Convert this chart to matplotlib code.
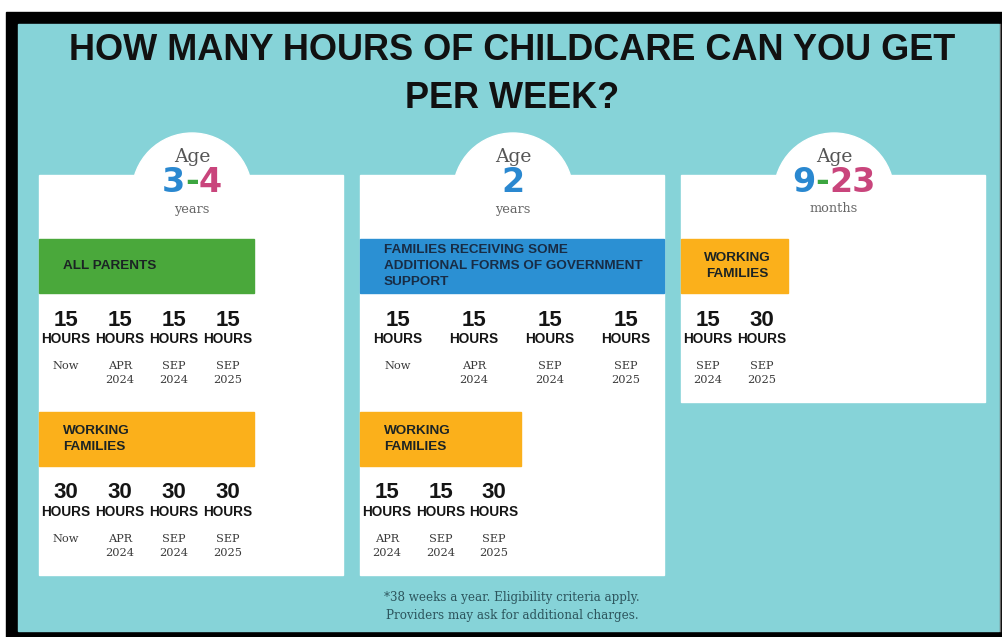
import matplotlib
matplotlib.use('Agg')
import matplotlib.pyplot as plt
from matplotlib.patches import Rectangle, Circle
from matplotlib import font_manager

# ---- data ----
title_lines = ['HOW MANY HOURS OF CHILDCARE CAN YOU GET', 'PER WEEK?']
age_parts = [
    [('3', 'blue'), ('-', 'green'), ('4', 'pink')],
    [('2', 'blue')],
    [('9', 'blue'), ('-', 'green'), ('23', 'pink')],
]
age_units = ['years', 'years', 'months']

band_all = 'ALL PARENTS'
band_support = 'FAMILIES RECEIVING SOME\nADDITIONAL FORMS OF GOVERNMENT\nSUPPORT'
band_working = 'WORKING\nFAMILIES'

dates_four = ['Now', 'APR\n2024', 'SEP\n2024', 'SEP\n2025']
dates_apr = ['APR\n2024', 'SEP\n2024', 'SEP\n2025']
dates_sep = ['SEP\n2024', 'SEP\n2025']

hours_34_all = [15, 15, 15, 15]
hours_34_working = [30, 30, 30, 30]
hours_2_support = [15, 15, 15, 15]
hours_2_working = [15, 15, 30]
hours_923_working = [15, 30]

footnote = '*38 weeks a year. Eligibility criteria apply.\nProviders may ask for additional charges.'

# ---- style ----
TEAL = '#86d3d8'
GREEN = '#4aa83b'
BLUE = '#2b90d3'
ORANGE = '#fbb01b'
DIGIT_COLORS = {'blue': '#2a88d0', 'green': '#3ca640', 'pink': '#c9457c'}

names = {f.name for f in font_manager.fontManager.ttflist}
NARROW = 'Liberation Sans Narrow' if 'Liberation Sans Narrow' in names else 'Liberation Sans'
SANS = 'Liberation Sans'
SERIF = 'DejaVu Serif'
narrow_scale = 1.0 if NARROW == 'Liberation Sans Narrow' else 0.82

W, H = 1002, 637
fig = plt.figure(figsize=(W / 100, H / 100), dpi=100)
ax = fig.add_axes([0, 0, 1, 1])
ax.set_xlim(0, W)
ax.set_ylim(H, 0)
ax.axis('off')
fig.patch.set_facecolor('white')

# frame
ax.add_patch(Rectangle((6, 12), W - 6, H - 12, color='black', zorder=0))
ax.add_patch(Rectangle((18, 24), 981, 607, color=TEAL, zorder=1))
ax.plot([1000, 1000], [24, 631], color='#666666', lw=1, zorder=1)

# title
for i, line in enumerate(title_lines):
    ax.text(512, 50 + i * 49, line, ha='center', va='center', family=NARROW,
            weight='bold', size=31.7 * narrow_scale, color='#111111', zorder=5)

# panels
panels = [(39, 175, 304, 400), (360, 175, 304, 400), (681, 175, 304, 227)]
for (x, y, w, h) in panels:
    ax.add_patch(Rectangle((x, y), w, h, color='white', zorder=2))
    ax.add_patch(Circle((x + w / 2 + 1, 193), 60, color='white', zorder=2))

renderer = fig.canvas.get_renderer()


def colored_word(cx, cy, parts, **kw):
    texts = [ax.text(0, cy, s, color=DIGIT_COLORS[c], va='center', ha='left',
                     zorder=5, **kw) for s, c in parts]
    widths = [t.get_window_extent(renderer).width for t in texts]
    x = cx - sum(widths) / 2
    for t, wd in zip(texts, widths):
        t.set_x(x)
        x += wd


for (x, y, w, h), parts, unit in zip(panels, age_parts, age_units):
    cx = x + w / 2 + 1
    ax.text(cx, 157, 'Age', ha='center', va='center', family=SERIF,
            size=13.5, color='#555555', zorder=5)
    colored_word(cx, 182, parts, family='DejaVu Sans', weight='bold', size=24)
    ax.text(cx, 209, unit, ha='center', va='center', family=SERIF,
            size=9.3, color='#666666', zorder=5)


def band(x, y, w, h, color, label, tx, ha='left', tcolor='#1b2324'):
    ax.add_patch(Rectangle((x, y), w, h, color=color, zorder=3))
    ax.text(tx, y + h / 2, label, ha=ha, va='center', family=SANS,
            weight='bold', size=9.7, color=tcolor, linespacing=1.45, zorder=5)


def hours_row(xs, y, hours, dates):
    for x, hr, d in zip(xs, hours, dates):
        ax.text(x, y + 1, str(hr), ha='center', va='center', family=SANS,
                weight='bold', size=16, color='#151515', zorder=5)
        ax.text(x, y + 20, 'HOURS', ha='center', va='center', family=NARROW,
                weight='bold', size=12 * narrow_scale, color='#151515', zorder=5)
        ax.text(x, y + 42, d, ha='center', va='top', family=SERIF,
                size=8.2, color='#3a3a3a', linespacing=1.5, zorder=5)


# panel 1: ages 3-4
band(39, 239, 215, 54, GREEN, band_all, 63)
hours_row([66, 120, 174, 228], 319, hours_34_all, dates_four)
band(39, 412, 215, 54, ORANGE, band_working, 63)
hours_row([66, 120, 174, 228], 492, hours_34_working, dates_four)

# panel 2: age 2
band(360, 239, 304, 54, BLUE, band_support, 384, tcolor='#182c45')
hours_row([398, 474, 550, 626], 319, hours_2_support, dates_four)
band(360, 412, 161, 54, ORANGE, band_working, 384)
hours_row([387, 441, 494], 492, hours_2_working, dates_apr)

# panel 3: 9-23 months
band(681, 239, 107, 54, ORANGE, band_working, 737, ha='center')
hours_row([708, 762], 319, hours_923_working, dates_sep)

ax.text(512, 606, footnote, ha='center', va='center', family=SERIF,
        size=8.6, color='#2d565e', linespacing=1.5, zorder=5)

fig.savefig('out.png', dpi=100)
